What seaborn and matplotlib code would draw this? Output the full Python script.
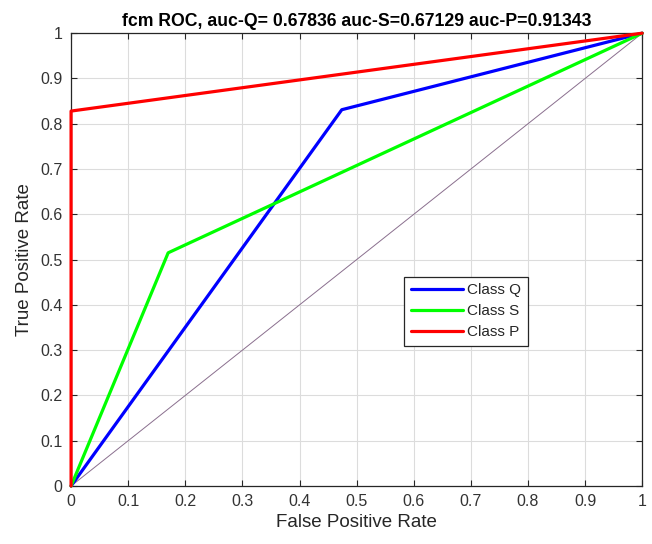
import matplotlib
matplotlib.use("Agg")
import matplotlib.pyplot as plt
import seaborn as sns
import pandas as pd

# Data
fpr_q = [0.0, 0.474, 1.0]
tpr_q = [0.0, 0.831, 1.0]
fpr_s = [0.0, 0.170, 1.0]
tpr_s = [0.0, 0.515, 1.0]
fpr_p = [0.0, 0.0, 1.0]
tpr_p = [0.0, 0.828, 1.0]
diag = [0.0, 1.0]
labels = ["Class Q", "Class S", "Class P"]
colors = ["#0000ff", "#00ff00", "#ff0000"]
ticks = [0, 0.1, 0.2, 0.3, 0.4, 0.5, 0.6, 0.7, 0.8, 0.9, 1]
tick_labels = ["0", "0.1", "0.2", "0.3", "0.4", "0.5", "0.6", "0.7", "0.8", "0.9", "1"]
title = "fcm ROC, auc-Q= 0.67836 auc-S=0.67129 auc-P=0.91343"

sns.set_theme(style="whitegrid")
plt.rcParams['font.family'] = ['Liberation Sans', 'DejaVu Sans']

fig = plt.figure(figsize=(6.52, 5.44), dpi=100)
ax = fig.add_axes([0.109, 0.1066, 0.876, 0.8324])

series = [(fpr_q, tpr_q), (fpr_s, tpr_s), (fpr_p, tpr_p)]
for (x, y), lab, c in zip(series, labels, colors):
    df = pd.DataFrame({"x": x, "y": y})
    sns.lineplot(data=df, x="x", y="y", ax=ax, color=c, linewidth=2.3,
                 label=lab, sort=False, estimator=None)

dd = pd.DataFrame({"x": diag, "y": diag})
sns.lineplot(data=dd, x="x", y="y", ax=ax, color="#8a6f8e", linewidth=0.7,
             sort=False, estimator=None, legend=False)

for ln in ax.lines[:3]:
    ln.set_clip_on(False)
    ln.set_zorder(5)

ax.set_xlim(0, 1)
ax.set_ylim(0, 1)
ax.set_xticks(ticks)
ax.set_yticks(ticks)
ax.set_xticklabels(tick_labels)
ax.set_yticklabels(tick_labels)
ax.tick_params(axis='both', which='both', direction='in', length=4, width=0.8,
               colors='#262626', labelsize=11.5, top=True, right=True,
               bottom=True, left=True, pad=6)
ax.tick_params(axis='both', labelcolor='#333333')
ax.grid(True, color='#dcdcdc', linewidth=0.8)
for s in ax.spines.values():
    s.set_visible(True)
    s.set_color('#262626')
    s.set_linewidth(0.9)
    s.set_zorder(4)

ax.set_xlabel("False Positive Rate", fontsize=13.5, color='#262626', labelpad=3)
ax.set_ylabel("True Positive Rate", fontsize=13.5, color='#262626', labelpad=5)
ax.set_title(title, fontsize=12.7, fontweight='bold', color='black', pad=5)

leg = ax.legend(loc='lower left', bbox_to_anchor=(0.583, 0.309, 0.217, 0.152),
                mode='expand', frameon=True, fancybox=False, fontsize=11,
                handlelength=3.4, handletextpad=0.25, borderpad=0.45,
                labelspacing=0.45, borderaxespad=0)
leg.get_frame().set_edgecolor('#262626')
leg.get_frame().set_linewidth(0.9)
leg.get_frame().set_alpha(1)
leg.set_zorder(10)

fig.savefig("out.png", dpi=100)
